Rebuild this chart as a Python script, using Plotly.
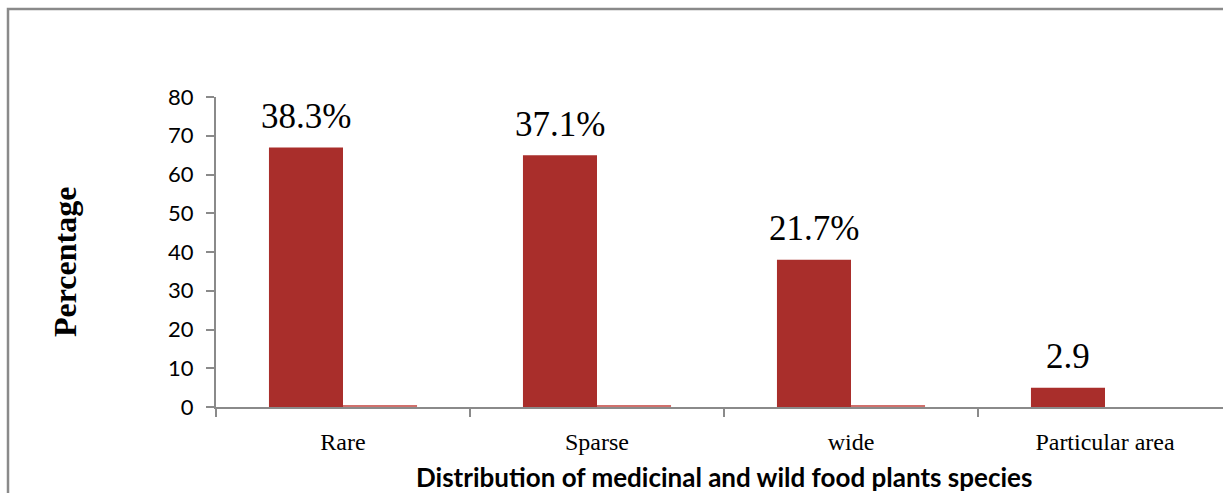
import plotly.graph_objects as go

# Species counts per distribution class
categories = ["Rare", "Sparse", "wide", "Particular area"]
counts = [67, 65, 38, 5]
minor_counts = [0.5, 0.3, 0.3, 0]
label_suffix = ["%", "%", "%", ""]
y_ticks = [0, 10, 20, 30, 40, 50, 60, 70, 80]

total = sum(counts)
share_labels = [f"{100 * c / total:.1f}{s}" for c, s in zip(counts, label_suffix)]

W, H = 1223, 493
ML, MR, MT, MB = 216, 0, 97, 86
BARGAP = 0.417
BAR_RED = "#a92e2b"
AXIS_GREY = "#8a8a8a"

fig = go.Figure()
fig.add_trace(go.Bar(x=categories, y=counts, marker=dict(color=BAR_RED, line=dict(width=0)),
                     showlegend=False))
fig.add_trace(go.Bar(x=categories, y=minor_counts, marker=dict(color="#d0706c", line=dict(width=0)),
                     showlegend=False))

# share labels centred above the first bar of each group
offset = (1 - BARGAP) / 4
for i, (c, lab) in enumerate(zip(counts, share_labels)):
    fig.add_annotation(x=i - offset, y=c, xref="x", yref="y", text=lab, showarrow=False,
                       yanchor="middle", yshift=31,
                       font=dict(family="Liberation Serif", size=35, color="#000"))

plot_w = W - ML - MR
plot_h = H - MT - MB


def px_x(px):
    return (px - ML) / plot_w


def px_y(py):
    return (H - MB - py) / plot_h


# outer frame of the chart area
fig.add_shape(type="rect", xref="paper", yref="paper",
              x0=px_x(8), x1=px_x(W + 20), y0=px_y(H + 20), y1=px_y(9),
              line=dict(color=AXIS_GREY, width=2.5), fillcolor="rgba(0,0,0,0)", layer="below")

fig.add_annotation(xref="paper", yref="paper", x=px_x(65), y=px_y(262), text="<b>Percentage</b>",
                   textangle=-90, showarrow=False, xanchor="center", yanchor="middle",
                   font=dict(family="Liberation Serif", size=32, color="#000"))
fig.add_annotation(xref="paper", yref="paper", x=px_x(724), y=px_y(477),
                   text="<b>Distribution of medicinal and wild food plants species</b>",
                   showarrow=False, xanchor="center", yanchor="middle",
                   font=dict(family="Lato", size=26, color="#000"))

fig.update_layout(
    width=W, height=H,
    margin=dict(l=ML, r=MR, t=MT, b=MB, pad=0),
    paper_bgcolor="white", plot_bgcolor="white",
    barmode="group", bargap=BARGAP, bargroupgap=0,
    xaxis=dict(type="category", range=[-0.5, -0.5 + plot_w / 254],
               showline=True, linecolor=AXIS_GREY, linewidth=2,
               ticks="outside", tickson="boundaries", ticklen=8, tickcolor=AXIS_GREY, tickwidth=1.5,
               ticklabelstandoff=12, showgrid=False, zeroline=False,
               tickfont=dict(family="Liberation Serif", size=24, color="#000")),
    yaxis=dict(range=[0, 80], tickvals=y_ticks, showline=True, linecolor=AXIS_GREY, linewidth=2,
               ticks="outside", ticklen=8, tickcolor=AXIS_GREY, tickwidth=1.5,
               ticklabelstandoff=8, showgrid=False, zeroline=False,
               tickfont=dict(family="Lato", size=22, color="#000")),
)

fig.write_html("out.html")
